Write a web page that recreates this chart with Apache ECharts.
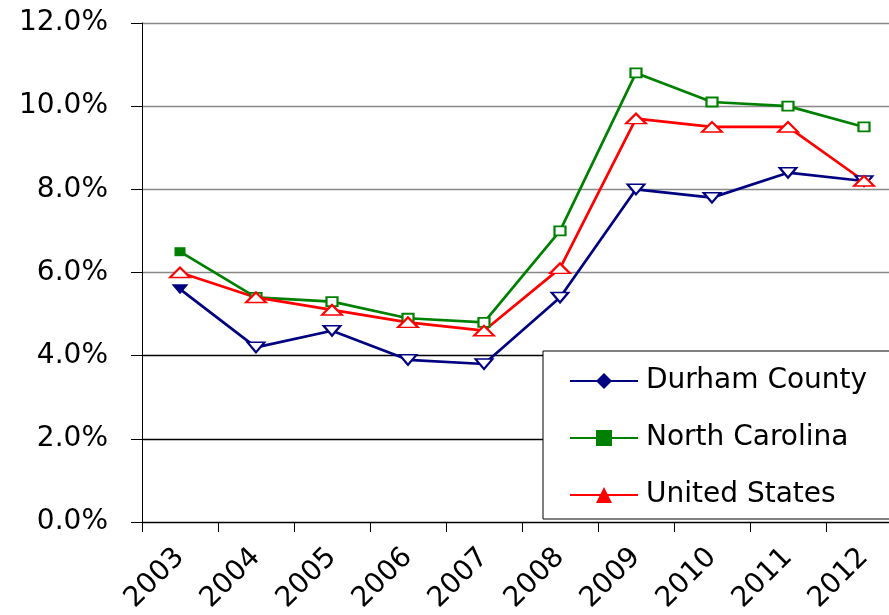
<!DOCTYPE html>
<html>
<head>
<meta charset="utf-8">
<script src="https://cdn.jsdelivr.net/npm/echarts@6/dist/echarts.min.js"></script>
<style>
  html, body { margin: 0; padding: 0; background: #fff; }
  #main { width: 889px; height: 615px; }
</style>
</head>
<body>
<div id="main"></div>
<script>
var myChart = echarts.init(document.getElementById('main'));

// values, in percent
var years = ['2003', '2004', '2005', '2006', '2007', '2008', '2009', '2010', '2011', '2012'];
var durham = [5.6, 4.2, 4.6, 3.9, 3.8, 5.4, 8.0, 7.8, 8.4, 8.2];
var northCarolina = [6.5, 5.4, 5.3, 4.9, 4.8, 7.0, 10.8, 10.1, 10.0, 9.5];
var unitedStates = [6.0, 5.4, 5.1, 4.8, 4.6, 6.1, 9.7, 9.5, 9.5, 8.2];

var font = "'DejaVu Sans', sans-serif";

// points drawn hollow, first point of some series filled (as in the picture)
function points(values, shape, size, rotate, fillFirst) {
  return values.map(function (v, i) {
    var filled = fillFirst && i === 0;
    return {
      value: v,
      symbol: filled ? shape : 'empty' + shape.charAt(0).toUpperCase() + shape.slice(1),
      symbolSize: size,
      symbolRotate: rotate
    };
  });
}

function lineSeries(name, color, legendShape, data) {
  return {
    name: name,
    type: 'line',
    symbol: legendShape,
    data: data,
    lineStyle: { color: color, width: 2.7 },
    itemStyle: { color: color, borderWidth: 2 },
    emphasis: { disabled: true },
    animation: false
  };
}

var option = {
  backgroundColor: '#fff',
  grid: {
    left: 142,
    top: 23,
    width: 760,
    height: 499,
    outerBoundsMode: 'none'
  },
  legend: {
    orient: 'vertical',
    left: 543,
    top: 351,
    padding: [16, 60, 10, 26],
    itemWidth: 68,
    itemHeight: 20,
    itemGap: 29,
    borderColor: '#000',
    borderWidth: 1,
    backgroundColor: '#fff',
    textStyle: { fontFamily: font, fontSize: 28, color: '#000', padding: [0, 0, 0, 3] },
    data: ['Durham County', 'North Carolina', 'United States']
  },
  xAxis: {
    type: 'category',
    data: years,
    boundaryGap: true,
    axisLine: { lineStyle: { color: '#000', width: 1 } },
    axisTick: { show: true, length: 10, lineStyle: { color: '#000' } },
    axisLabel: {
      rotate: 45,
      margin: 31,
      interval: 0,
      fontFamily: font,
      fontSize: 28,
      color: '#000'
    },
    splitLine: { show: false }
  },
  yAxis: {
    type: 'value',
    min: 0,
    max: 12,
    interval: 2,
    axisLine: { show: true, lineStyle: { color: '#000', width: 1 } },
    axisTick: { show: true, length: 11, lineStyle: { color: '#000' } },
    axisLabel: {
      margin: 34,
      fontFamily: font,
      fontSize: 28,
      color: '#000',
      formatter: function (v) { return v.toFixed(1) + '%'; }
    },
    splitLine: {
      show: true,
      lineStyle: {
        color: ['#000', '#000', '#000', '#888', '#888', '#888', '#888'],
        width: 1.3
      }
    }
  },
  series: [
    lineSeries('Durham County', '#000080', 'diamond', points(durham, 'triangle', [17, 10], 180, true)),
    lineSeries('North Carolina', '#008000', 'rect', points(northCarolina, 'rect', [11, 9], 0, true)),
    lineSeries('United States', '#ff0000', 'triangle', points(unitedStates, 'triangle', [20, 10], 0, false))
  ]
};

option && myChart.setOption(option);
</script>
</body>
</html>
